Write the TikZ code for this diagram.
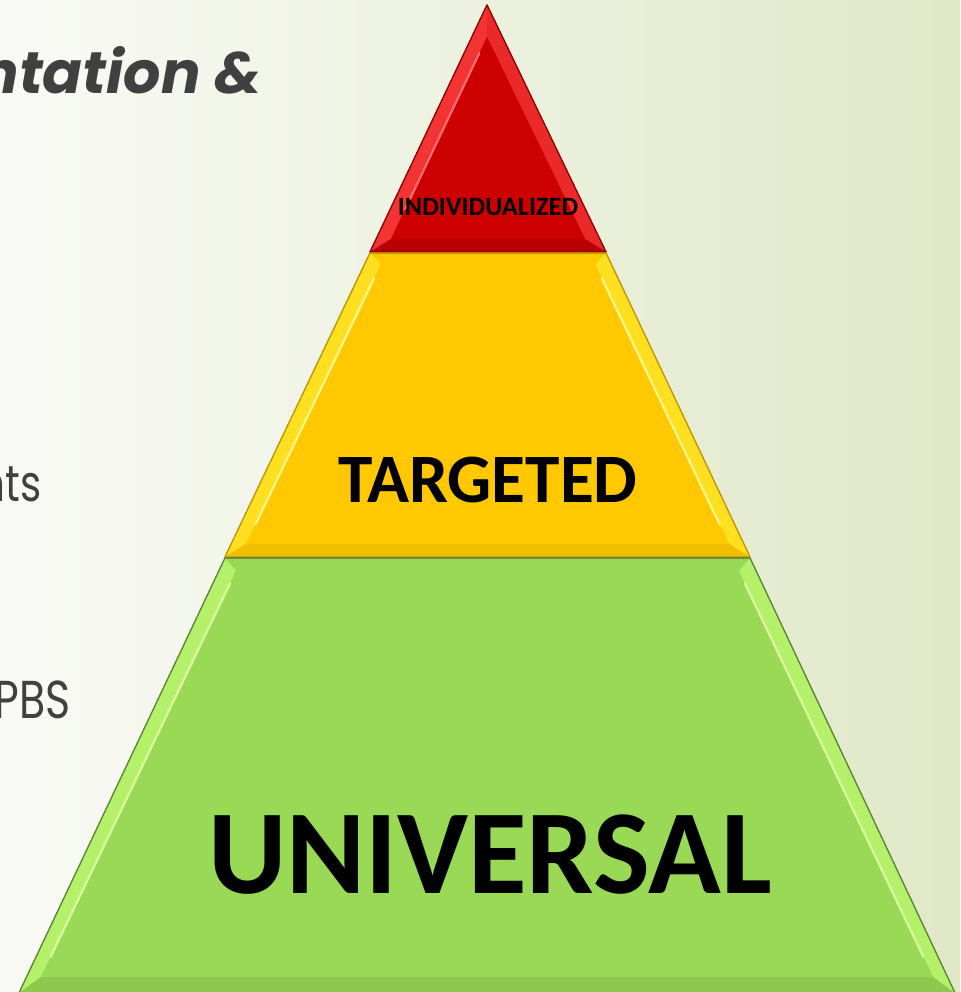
\documentclass[tikz,border=0pt]{standalone}
\usepackage{fontspec}
\usetikzlibrary{calc}
\newfontfamily\gothic{Poppins}
\newfontfamily\gothicnarrow{Poppins}[FakeStretch=0.8]
\newfontfamily\tierfont{Carlito}

\definecolor{bgleft}{HTML}{F9FAF6}
\definecolor{bgmid}{HTML}{F2F5EA}
\definecolor{bgright}{HTML}{E0E8C7}
\definecolor{slidegray}{HTML}{404040}
\definecolor{redtier}{HTML}{CC0000}
\definecolor{redlight}{HTML}{F23434}
\definecolor{redshine}{HTML}{FF7070}
\definecolor{yellowtier}{HTML}{FFC800}
\definecolor{yellowlight}{HTML}{FFE020}
\definecolor{yellowshine}{HTML}{FFF890}
\definecolor{greentier}{HTML}{9AD955}
\definecolor{greenlight}{HTML}{B4F06A}
\definecolor{greenshine}{HTML}{DAFFA0}

\tikzset{
  tier/.style={fill=#1, draw=#1!70!black, line width=0.9pt, line join=round},
  bevel/.style={fill=#1},
  shine/.style={draw=#1, line width=1.6pt, line cap=round},
  lefttext/.style={inner sep=0pt, text=slidegray},
  tierlabel/.style={inner sep=0pt, text=black, font=\tierfont\bfseries}
}

\begin{document}
\begin{tikzpicture}[x=0.75pt, y=-0.75pt]
\useasboundingbox (0,0) rectangle (960,992);
\clip (0,0) rectangle (960,992);
\shade[left color=bgleft, middle color=bgmid, right color=bgright] (0,0) rectangle (960,992);

% slide text behind the pyramid
\node[lefttext, anchor=base east, font=\gothic\bfseries\itshape\fontsize{44}{44}\selectfont] (heading) at (262,93) {ntation \&};
\node[lefttext, anchor=base east, font=\gothicnarrow\fontsize{38}{38}\selectfont] (line1) at (42,501) {nts};
\node[lefttext, anchor=base east, font=\gothicnarrow\fontsize{40}{40}\selectfont] (line2) at (71,718) {PBS};

% outer corners of the tiers
\coordinate (r1) at (487,5);   \coordinate (r2) at (606,252); \coordinate (r3) at (370,252);
\coordinate (y1) at (370,253); \coordinate (y2) at (606,253);
\coordinate (y3) at (750,557); \coordinate (y4) at (225,557);
\coordinate (g1) at (225,558); \coordinate (g2) at (750,558);
\coordinate (g3) at (955,993); \coordinate (g4) at (19,993);
% inner corners (bevel)
\coordinate (ri1) at (487,37);  \coordinate (ri2) at (585,239); \coordinate (ri3) at (391,239);
\coordinate (yi1) at (381,264); \coordinate (yi2) at (595,264);
\coordinate (yi3) at (729,544); \coordinate (yi4) at (246,544);
\coordinate (gi1) at (236,571); \coordinate (gi2) at (739,571);
\coordinate (gi3) at (933,977); \coordinate (gi4) at (41,977);

% individualized
\fill[tier=redtier] (r1) -- (r2) -- (r3) -- cycle;
\fill[bevel=redlight] (r1) -- (ri1) -- (ri3) -- (r3) -- cycle;
\fill[bevel=redlight!80!redtier] (r1) -- (r2) -- (ri2) -- (ri1) -- cycle;
\fill[bevel=redtier!90!black] (r3) -- (ri3) -- (ri2) -- (r2) -- cycle;
\fill[redtier] (ri1) -- (ri2) -- (ri3) -- cycle;
\draw[shine=redshine] ($(ri1)!0.08!(ri3)$) -- ($(ri1)!0.85!(ri3)$);
\draw[redtier!70!black, line width=0.9pt, line join=round] (r1) -- (r2) -- (r3) -- cycle;

% targeted
\fill[tier=yellowtier] (y1) -- (y2) -- (y3) -- (y4) -- cycle;
\fill[bevel=yellowlight] (y1) -- (yi1) -- (yi4) -- (y4) -- cycle;
\fill[bevel=yellowlight] (y2) -- (y3) -- (yi3) -- (yi2) -- cycle;
\fill[bevel=yellowtier!95!black] (y4) -- (yi4) -- (yi3) -- (y3) -- cycle;
\fill[yellowtier] (yi1) -- (yi2) -- (yi3) -- (yi4) -- cycle;
\draw[shine=yellowshine] ($(yi1)!0.05!(yi4)$) -- ($(yi1)!0.93!(yi4)$);
\draw[shine=yellowshine] ($(yi2)!0.05!(yi3)$) -- ($(yi2)!0.93!(yi3)$);
\draw[yellowtier!75!black, line width=0.9pt, line join=round] (y1) -- (y2) -- (y3) -- (y4) -- cycle;

% universal
\fill[tier=greentier] (g1) -- (g2) -- (g3) -- (g4) -- cycle;
\fill[bevel=greenlight] (g1) -- (gi1) -- (gi4) -- (g4) -- cycle;
\fill[bevel=greenlight] (g2) -- (g3) -- (gi3) -- (gi2) -- cycle;
\fill[bevel=greentier!92!black] (g4) -- (gi4) -- (gi3) -- (g3) -- cycle;
\fill[greentier] (gi1) -- (gi2) -- (gi3) -- (gi4) -- cycle;
\draw[shine=greenshine] ($(gi1)!0.03!(gi4)$) -- ($(gi1)!0.95!(gi4)$);
\draw[shine=greenshine] ($(gi2)!0.03!(gi3)$) -- ($(gi2)!0.95!(gi3)$);
\draw[greentier!60!black, line width=0.9pt, line join=round] (g1) -- (g2) -- (g3) -- (g4) -- cycle;

% tier labels
\node[tierlabel, font=\tierfont\bfseries\fontsize{19.8}{19.8}\selectfont, anchor=base] (individualized) at (488,215) {INDIVIDUALIZED};
\node[tierlabel, font=\tierfont\bfseries\fontsize{52}{52}\selectfont, anchor=base] (targeted) at (488,502) {TARGETED};
\node[tierlabel, font=\tierfont\bfseries\fontsize{90}{90}\selectfont, anchor=base] (universal) at (490,893) {UNIVERSAL};
\end{tikzpicture}
\end{document}
